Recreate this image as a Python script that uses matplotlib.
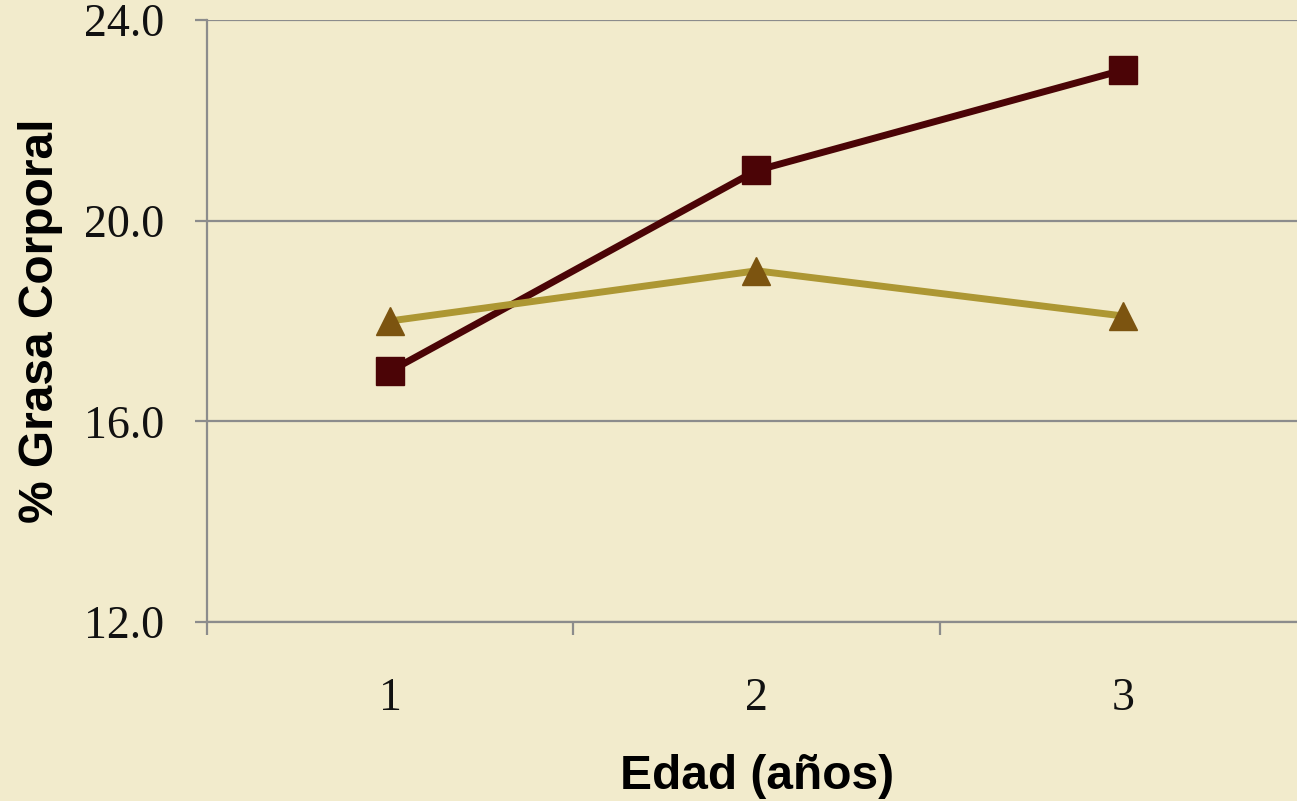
import numpy as np
import matplotlib.pyplot as plt
from matplotlib.ticker import FixedLocator

# % body fat by age
edad = [1, 2, 3]
etiquetas = ['1', '2', '3']
grasa_a = [17.0, 21.0, 23.0]   # squares
grasa_b = [18.0, 19.0, 18.1]   # triangles

papel = '#F2EBCC'
rejilla = '#8C8C8C'

fig = plt.figure(figsize=(12.97, 8.01), dpi=100, facecolor=papel)
ax = fig.add_axes([0.1596, 0.2235, 0.8473, 0.7516], facecolor=papel)

ax.plot(edad, grasa_a, color='#4B0406', lw=5, marker='s', ms=19.5,
        mfc='#4B0406', mec='#4B0406', zorder=3, clip_on=False)
ax.plot(edad, grasa_b, color='#AD9733', lw=5, marker='^', ms=20,
        mfc='#7C5410', mec='#7C5410', zorder=3, clip_on=False)

ax.set_xlim(0.5, 3.5)
ax.set_ylim(12, 24)
ax.set_yticks([12, 16, 20, 24])
ax.set_yticklabels(['12.0', '16.0', '20.0', '24.0'])
ax.grid(axis='y', color=rejilla, lw=1.6)
ax.set_axisbelow(True)

# category boundaries get tick marks, labels sit between them
ax.xaxis.set_major_locator(FixedLocator([0.5, 1.5, 2.5, 3.5]))
ax.xaxis.set_minor_locator(FixedLocator(edad))
ax.set_xticklabels([''] * 4)
ax.set_xticklabels(etiquetas, minor=True)
ax.tick_params(axis='x', which='major', length=9, width=1.6, color=rejilla)
ax.tick_params(axis='x', which='minor', length=0, pad=40)
ax.tick_params(axis='y', length=9, width=1.6, color=rejilla, pad=22)
for lab in ax.get_xticklabels(minor=True) + ax.get_yticklabels():
    lab.set_family('Liberation Serif')
    lab.set_fontsize(33)
    lab.set_color('#111111')

for s in ['top', 'right']:
    ax.spines[s].set_visible(False)
for s in ['left', 'bottom']:
    ax.spines[s].set_color(rejilla)
    ax.spines[s].set_linewidth(1.6)

fig.text(0.584, 0.031, 'Edad (años)', family='Liberation Sans', weight='bold',
         fontsize=34.5, ha='center', va='center')
fig.text(0.031, 0.6, '% Grasa Corporal', family='Liberation Sans', weight='bold',
         fontsize=34.5, ha='center', va='center', rotation=90)

fig.savefig('out.png', dpi=100, facecolor=papel)
